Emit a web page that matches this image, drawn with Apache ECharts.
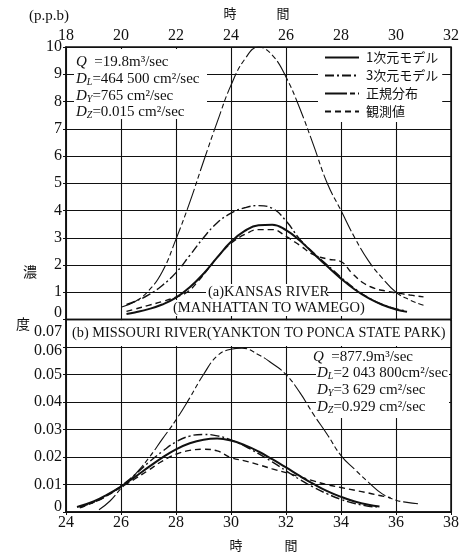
<!DOCTYPE html>
<html>
<head>
<meta charset="utf-8">
<script src="https://cdn.jsdelivr.net/npm/echarts@6/dist/echarts.min.js"></script>
<style>
html, body { margin: 0; padding: 0; background: #fff; }
#chart { width: 469px; height: 553px; }
</style>
</head>
<body>
<div id="chart"></div>
<script>
// ---- series names (legend) ----
const seriesNames = ['1次元モデル', '3次元モデル', '正規分布', '観測値'];

// ---- axis ticks ----
const kansasTimeTicks = [18, 20, 22, 24, 26, 28, 30, 32];
const missouriTimeTicks = [24, 26, 28, 30, 32, 34, 36, 38];
const kansasConcTicks = ['0', '1', '2', '3', '4', '5', '6', '7', '8', '9', '10'];
const missouriConcTicks = ['0', '0.01', '0.02', '0.03', '0.04', '0.05', '0.06', '0.07'];

// ---- (a) Kansas River: [hour, ppb] ----
const kansasOneDim = [[20.2,0.2],[20.5,0.26],[21,0.38],[21.5,0.55],[22,0.8],[22.5,1.18],[23,1.68],[23.5,2.28],[24,2.85],[24.5,3.25],[25,3.46],[25.5,3.48],[26,3.28],[26.5,2.9],[27,2.42],[27.5,1.95],[28,1.5],[28.5,1.1],[29,0.78],[29.5,0.54],[30,0.37],[30.4,0.28]];
const kansasThreeDim = [[20.2,0.55],[20.5,0.66],[21,0.9],[21.5,1.25],[22,1.72],[22.5,2.35],[23,3.0],[23.5,3.55],[24,3.9],[24.5,4.1],[25,4.18],[25.5,4.08],[26,3.62],[26.5,2.95],[27,2.45],[27.5,2.0],[28,1.55],[28.5,1.13],[29,0.8],[29.5,0.55],[30,0.39],[30.4,0.31]];
const kansasNormal = [[20,0.45],[20.5,0.65],[21,1.05],[21.5,1.75],[22,2.95],[22.5,4.3],[23,5.8],[23.5,7.25],[24,8.6],[24.5,9.55],[25,10.0],[25.5,9.7],[26,8.9],[26.5,7.75],[27,6.4],[27.5,5.0],[28,4.0],[28.5,3.0],[29,2.15],[29.5,1.52],[30,1.0],[30.5,0.72],[31,0.52]];
const kansasObserved = [[20.2,0.3],[20.5,0.38],[21,0.52],[21.5,0.66],[22,0.82],[22.4,1.0],[22.8,1.4],[23.2,1.9],[23.6,2.4],[24,2.8],[24.5,3.12],[25,3.3],[25.5,3.3],[26,3.05],[26.5,2.72],[27,2.38],[27.5,2.22],[28,2.12],[28.4,1.7],[28.8,1.35],[29.2,1.15],[29.6,1.05],[30,0.98],[30.5,0.9],[31,0.83]];

// ---- (b) Missouri River: [hour, ppb] ----
const missouriOneDim = [[24.4,0.0018],[25,0.0038],[25.5,0.0063],[26,0.0093],[26.5,0.0127],[27,0.0163],[27.5,0.0198],[28,0.0228],[28.5,0.025],[29,0.0263],[29.5,0.0267],[30,0.026],[30.5,0.0243],[31,0.022],[31.5,0.0192],[32,0.0162],[32.5,0.0131],[33,0.0102],[33.5,0.0076],[34,0.0055],[34.5,0.0038],[35,0.0026],[35.4,0.002]];
const missouriThreeDim = [[24.5,0.0018],[25,0.0035],[25.5,0.006],[26,0.0095],[26.5,0.0135],[27,0.018],[27.5,0.022],[28,0.0255],[28.5,0.0276],[29,0.0282],[29.5,0.0277],[30,0.0262],[30.5,0.024],[31,0.0212],[31.5,0.0182],[32,0.015],[32.5,0.0118],[33,0.009],[33.5,0.0066],[34,0.0046],[34.5,0.0031],[35,0.0021],[35.3,0.0018]];
const missouriNormal = [[25.2,0.0008],[25.6,0.004],[26,0.0085],[26.5,0.0135],[27,0.0195],[27.5,0.0265],[28,0.0335],[28.5,0.0415],[29,0.05],[29.5,0.0568],[30,0.0592],[30.4,0.0596],[31,0.0572],[31.5,0.054],[32,0.05],[32.5,0.0435],[33,0.0355],[33.5,0.0282],[34,0.0205],[34.5,0.0155],[35,0.0108],[35.5,0.0066],[36,0.0043],[36.4,0.0035],[36.8,0.003]];
const missouriObserved = [[24.5,0.0015],[25,0.0035],[25.5,0.006],[26,0.009],[26.5,0.012],[27,0.0152],[27.5,0.0185],[28,0.021],[28.5,0.0224],[29,0.0228],[29.5,0.0222],[30,0.0198],[30.5,0.0186],[31,0.0172],[31.5,0.0157],[32,0.0143],[32.5,0.0128],[33,0.0113],[33.5,0.0099],[34,0.0089],[34.5,0.0079],[35,0.0069],[35.5,0.0058],[35.8,0.0052]];

const INK = '#111';
const SERIF = '"Liberation Serif", "Times New Roman", serif';
const CJK = '"Noto Sans CJK JP", sans-serif';

// line look per model
const lineLooks = {
  '1次元モデル': { width: 2.0, type: 'solid' },
  '3次元モデル': { width: 1.4, type: [9, 3, 2, 3] },
  '正規分布':   { width: 1.1, type: [22, 3, 5, 3, 5, 3] },
  '観測値':     { width: 1.4, type: [6, 4] }
};

const axisRange = ticks => ({
  min: ticks[0], max: ticks[ticks.length - 1], interval: ticks[1] - ticks[0]
});

const numLabel = {
  color: INK, fontFamily: SERIF, fontSize: 16
};

function makeSeries(name, data, gi) {
  const look = lineLooks[name];
  return {
    name, type: 'line', data,
    xAxisIndex: gi, yAxisIndex: gi,
    smooth: 0.45, symbol: 'none', z: 3,
    itemStyle: { color: INK },
    lineStyle: { color: INK, width: look.width, type: look.type },
    emphasis: { disabled: true }
  };
}

function paramText(x, y, text) {
  return {
    type: 'text', x, y, z: 5,
    style: {
      text, fill: INK, fontFamily: SERIF, fontSize: 15, verticalAlign: 'middle',
      rich: {
        i: { fontStyle: 'italic', fontFamily: SERIF, fontSize: 15, fill: INK },
        s: { fontStyle: 'italic', fontFamily: SERIF, fontSize: 10, fill: INK, verticalAlign: 'bottom', padding: [6, 0, 0, 0] }
      }
    }
  };
}

function plainText(x, y, text, font, size, align) {
  return {
    type: 'text', x, y, z: 5,
    style: { text, fill: INK, fontFamily: font, fontSize: size, align: align || 'left', verticalAlign: 'middle' }
  };
}

function whiteBox(x, y, w, h) {
  return { type: 'rect', z: 1, shape: { x, y, width: w, height: h }, style: { fill: '#fff' } };
}

const chart = echarts.init(document.getElementById('chart'), null, { renderer: 'canvas' });

const splitLine = { show: true, lineStyle: { color: INK, width: 1.1 } };
const axisLine = { show: true, lineStyle: { color: INK, width: 1.5 } };
const axisTick = { show: true, length: 3, lineStyle: { color: INK, width: 1 } };

chart.setOption({
  animation: false,
  backgroundColor: '#fff',
  grid: [
    { left: 66, top: 47, width: 385, height: 272.5, show: true, borderColor: INK, borderWidth: 1.5, backgroundColor: 'transparent' },
    { left: 66, top: 319.5, width: 385, height: 192.5, show: true, borderColor: INK, borderWidth: 1.5, backgroundColor: 'transparent' }
  ],
  xAxis: [
    Object.assign({ type: 'value', gridIndex: 0, position: 'top',
      axisLine, axisTick, splitLine,
      axisLabel: Object.assign({ margin: 3 }, numLabel) }, axisRange(kansasTimeTicks)),
    Object.assign({ type: 'value', gridIndex: 1, position: 'bottom',
      axisLine, axisTick, splitLine,
      axisLabel: Object.assign({ margin: 3 }, numLabel) }, axisRange(missouriTimeTicks))
  ],
  yAxis: [
    { type: 'value', gridIndex: 0, min: 0, max: kansasConcTicks.length - 1, interval: 1,
      axisLine, axisTick, splitLine,
      axisLabel: Object.assign({
        margin: 4,
        formatter: v => {
          const t = kansasConcTicks[Math.round(v)];
          return Math.round(v) === 0 ? '{lo|' + t + '}' : t;
        },
        rich: { lo: { fontFamily: SERIF, fontSize: 16, color: INK, padding: [0, 0, 13, 0] } }
      }, numLabel) },
    { type: 'value', gridIndex: 1, min: 0, max: 0.07, interval: 0.01,
      axisLine, axisTick, splitLine,
      axisLabel: Object.assign({
        margin: 4,
        formatter: v => {
          const k = Math.round(v * 100);
          const t = missouriConcTicks[k];
          if (k === 7) return '{hi|' + t + '}';
          if (k === 6) return '{mid|' + t + '}';
          if (k === 0) return '{lo|' + t + '}';
          return t;
        },
        rich: {
          hi: { fontFamily: SERIF, fontSize: 16, color: INK, padding: [25, 0, 0, 0] },
          mid: { fontFamily: SERIF, fontSize: 16, color: INK, padding: [8, 0, 0, 0] },
          lo: { fontFamily: SERIF, fontSize: 16, color: INK, padding: [0, 0, 10, 0] }
        }
      }, numLabel) }
  ],
  legend: {
    data: seriesNames,
    orient: 'vertical',
    left: 318, top: 48,
    itemWidth: 34, itemHeight: 10, itemGap: 5,
    selectedMode: false,
    backgroundColor: '#fff',
    padding: [3, 4, 4, 6],
    itemStyle: { opacity: 0 },
    textStyle: { color: INK, fontFamily: CJK, fontSize: 13, padding: [0, 0, 0, 2] }
  },
  series: [
    makeSeries('1次元モデル', kansasOneDim, 0),
    makeSeries('3次元モデル', kansasThreeDim, 0),
    makeSeries('正規分布', kansasNormal, 0),
    makeSeries('観測値', kansasObserved, 0),
    makeSeries('1次元モデル', missouriOneDim, 1),
    makeSeries('3次元モデル', missouriThreeDim, 1),
    makeSeries('正規分布', missouriNormal, 1),
    makeSeries('観測値', missouriObserved, 1)
  ],
  graphic: {
    elements: [
      // unit and axis titles
      plainText(49, 16, '(p.p.b)', SERIF, 15, 'center'),
      plainText(230, 13, '時', CJK, 13, 'center'),
      plainText(283, 13, '間', CJK, 13, 'center'),
      plainText(236, 545, '時', CJK, 13, 'center'),
      plainText(291, 545, '間', CJK, 13, 'center'),
      plainText(30, 272, '濃', CJK, 14, 'center'),
      plainText(23, 324, '度', CJK, 14, 'center'),

      // (a) parameters
      whiteBox(74, 49, 133, 70),
      paramText(76, 62, '{i|Q}  =19.8m³/sec'),
      paramText(76, 79, '{i|D}{s|L}=464 500 cm²/sec'),
      paramText(76, 96, '{i|D}{s|Y}=765 cm²/sec'),
      paramText(76, 112, '{i|D}{s|Z}=0.015 cm²/sec'),

      // (a) river label
      whiteBox(206, 284, 121, 16),
      plainText(208, 292, '(a)KANSAS RIVER', SERIF, 14.5),
      whiteBox(172, 300, 197, 16),
      plainText(173, 308, '(MANHATTAN TO WAMEGO)', SERIF, 14.5),

      // (b) band
      whiteBox(67, 320.5, 383, 25.5),
      plainText(72, 333, '(b) MISSOURI RIVER(YANKTON TO PONCA STATE PARK)', SERIF, 14.3),

      // (b) parameters
      whiteBox(316, 348, 133, 70),
      paramText(313, 357, '{i|Q}  =877.9m³/sec'),
      paramText(317, 373, '{i|D}{s|L}=2 043 800cm²/sec'),
      paramText(317, 390, '{i|D}{s|Y}=3 629 cm²/sec'),
      paramText(317, 407, '{i|D}{s|Z}=0.929 cm²/sec')
    ]
  }
});
</script>
</body>
</html>
